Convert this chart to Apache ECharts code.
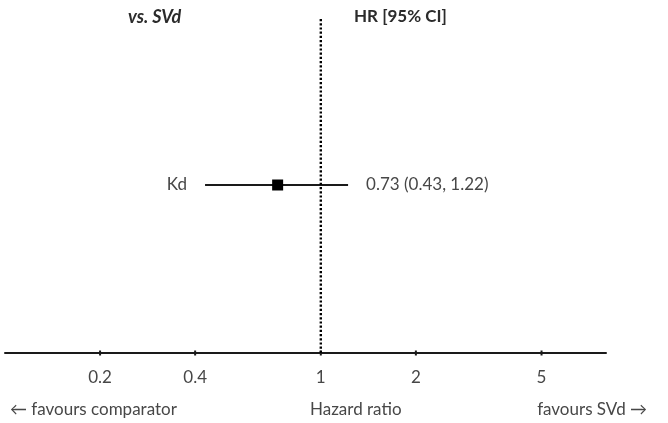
<!DOCTYPE html>
<html>
<head>
<meta charset="utf-8">
<script src="https://cdn.jsdelivr.net/npm/echarts@6/dist/echarts.min.js"></script>
<style>
  html, body { margin: 0; padding: 0; background: #fff; }
  #chart { width: 668px; height: 423px; }
</style>
</head>
<body>
<div id="chart"></div>
<script>
// Forest plot: hazard ratio vs. SVd
const categories = ['Kd'];
const hazardRatio = [0.73];
const ciLower = [0.43];
const ciUpper = [1.22];
const tickValues = [0.2, 0.4, 1, 2, 5];

const FONT = 'Lato, "Open Sans", sans-serif';
const TEXT = '#474747';
const SIZE = '17px ';

const rows = categories.map((c, i) => [hazardRatio[i], 0.5, ciLower[i], ciUpper[i], c]);
const fmt = v => v.toFixed(2);

const chart = echarts.init(document.getElementById('chart'));
chart.setOption({
  animation: false,
  grid: { left: 5, right: 62, top: 17, bottom: 70 },
  xAxis: {
    type: 'log', min: 0.1, max: 8, logBase: 10,
    axisLine: { show: true, lineStyle: { color: '#1a1a1a', width: 2 } },
    axisTick: { show: false }, axisLabel: { show: false }, splitLine: { show: false }
  },
  yAxis: { type: 'value', min: 0, max: 1, show: false },
  series: [
    {
      // reference line at HR = 1
      type: 'line', data: [[1, 0], [1, 1]], symbol: 'none', silent: true,
      lineStyle: { color: '#000', width: 2.4, type: [2.2, 2] }
    },
    {
      // axis tick marks and labels
      type: 'custom',
      data: tickValues.map(v => [v, 0]),
      renderItem: (params, api) => {
        const p = api.coord([api.value(0), 0]);
        return {
          type: 'group',
          children: [
            { type: 'line', shape: { x1: p[0], y1: p[1] - 2.5, x2: p[0], y2: p[1] + 2.5 },
              style: { stroke: '#1a1a1a', lineWidth: 2 } },
            { type: 'text', x: p[0], y: p[1] + 25,
              style: { text: String(api.value(0)), fill: TEXT, font: SIZE + FONT,
                       align: 'center', verticalAlign: 'middle' } }
          ]
        };
      }
    },
    {
      // estimate with confidence interval
      type: 'custom',
      data: rows,
      renderItem: (params, api) => {
        const c = api.coord([api.value(0), api.value(1)]);
        const lo = api.coord([api.value(2), api.value(1)]);
        const hi = api.coord([api.value(3), api.value(1)]);
        const s = 11;
        return {
          type: 'group',
          children: [
            { type: 'line', shape: { x1: lo[0], y1: lo[1], x2: hi[0], y2: hi[1] },
              style: { stroke: '#1a1a1a', lineWidth: 2 } },
            { type: 'rect', shape: { x: c[0] - s / 2, y: c[1] - s / 2, width: s, height: s },
              style: { fill: '#000' } },
            { type: 'text', x: lo[0] - 18, y: c[1],
              style: { text: rows[params.dataIndex][4], fill: TEXT, font: SIZE + FONT,
                       align: 'right', verticalAlign: 'middle' } },
            { type: 'text', x: hi[0] + 18, y: c[1],
              style: { text: fmt(api.value(0)) + ' (' + fmt(api.value(2)) + ', ' + fmt(api.value(3)) + ')',
                       fill: TEXT, font: SIZE + FONT, align: 'left', verticalAlign: 'middle' } }
          ]
        };
      }
    }
  ],
  graphic: [
    { type: 'text', x: 128, y: 17,
      style: { text: 'vs. SVd', fill: '#2b2b2b', font: 'italic bold 18px ' + FONT, verticalAlign: 'middle' } },
    { type: 'text', x: 354, y: 17,
      style: { text: 'HR [95% CI]', fill: '#2b2b2b', font: 'bold 17px ' + FONT, verticalAlign: 'middle' } },
    { type: 'text', x: 10, y: 410,
      style: { text: '← favours comparator', fill: TEXT, font: SIZE + FONT, verticalAlign: 'middle' } },
    { type: 'text', x: 310, y: 410,
      style: { text: 'Hazard ratio', fill: TEXT, font: SIZE + FONT, verticalAlign: 'middle' } },
    { type: 'text', x: 647, y: 410,
      style: { text: 'favours SVd →', fill: TEXT, font: SIZE + FONT, align: 'right', verticalAlign: 'middle' } }
  ]
});
</script>
</body>
</html>
